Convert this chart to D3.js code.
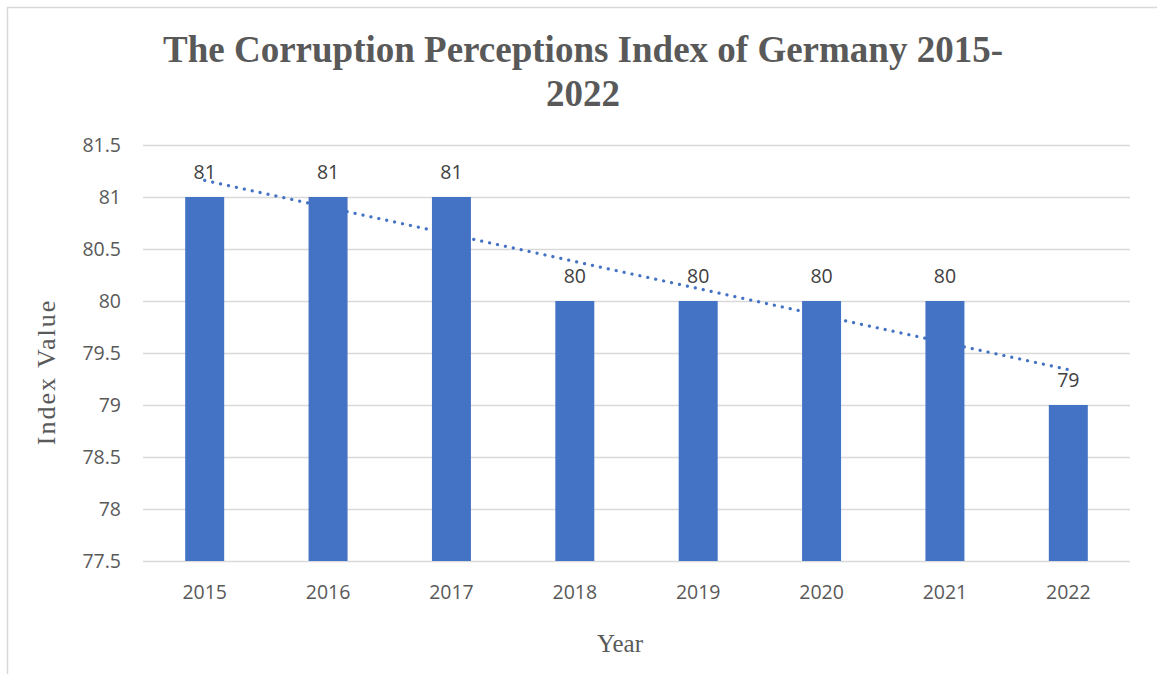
<!DOCTYPE html>
<html>
<head>
<meta charset="utf-8">
<script src="https://cdn.jsdelivr.net/npm/d3@7"></script>
<style>
  body { margin: 0; background: #fff; }
  svg { display: block; }
</style>
</head>
<body>
<svg id="chart" width="1157" height="674"></svg>
<script>
// data
var years = ["2015", "2016", "2017", "2018", "2019", "2020", "2021", "2022"];
var values = [81, 81, 81, 80, 80, 80, 80, 79];
var yTicks = [77.5, 78, 78.5, 79, 79.5, 80, 80.5, 81, 81.5];
// dotted linear trendline, value at first and last year
var trendYears = ["2015", "2022"];
var trendValues = [81.16, 79.34];

var titleLines = ["The Corruption Perceptions Index of Germany 2015-", "2022"];

var width = 1157, height = 674;
var margin = {left: 143, right: 27, top: 145, bottom: 113};

var svg = d3.select("#chart");

// outer chart border
svg.append("rect")
    .attr("x", 7.5)
    .attr("y", 7.5)
    .attr("width", 1170)
    .attr("height", 700)
    .attr("fill", "#fff")
    .attr("stroke", "#d9d9d9")
    .attr("stroke-width", 1.5);

var x = d3.scaleBand()
    .domain(years)
    .range([margin.left, width - margin.right])
    .paddingInner(0.684)
    .paddingOuter(0.342);

var y = d3.scaleLinear()
    .domain([77.5, 81.5])
    .range([height - margin.bottom, margin.top]);

// gridlines
var yAxis = d3.axisLeft(y)
    .tickValues(yTicks)
    .tickSize(-(width - margin.left - margin.right))
    .tickPadding(22)
    .tickFormat(function(d) { return d; });

var gy = svg.append("g")
    .attr("transform", "translate(" + margin.left + ",0)")
    .call(yAxis);
gy.select(".domain").remove();
gy.selectAll(".tick line")
    .attr("stroke", "#d9d9d9")
    .attr("stroke-width", 1.5);
gy.selectAll(".tick text")
    .attr("fill", "#595959")
    .attr("dy", "0.35em")
    .style("font-family", "'Open Sans', sans-serif")
    .style("font-size", "19.5px");

// bars
svg.append("g")
    .selectAll("rect")
    .data(values)
    .join("rect")
    .attr("x", function(d, i) { return x(years[i]); })
    .attr("y", function(d) { return y(d); })
    .attr("width", x.bandwidth())
    .attr("height", function(d) { return y(77.5) - y(d); })
    .attr("fill", "#4472c4");

// trendline
var line = d3.line()
    .x(function(d, i) { return x(trendYears[i]) + x.bandwidth() / 2; })
    .y(function(d) { return y(d); });

svg.append("path")
    .datum(trendValues)
    .attr("d", line)
    .attr("fill", "none")
    .attr("stroke", "#4472c4")
    .attr("stroke-width", 3.2)
    .attr("stroke-linecap", "round")
    .attr("stroke-dasharray", "0.1 8");

// data labels
svg.append("g")
    .selectAll("text")
    .data(values)
    .join("text")
    .attr("x", function(d, i) { return x(years[i]) + x.bandwidth() / 2; })
    .attr("y", function(d) { return y(d) - 18; })
    .attr("text-anchor", "middle")
    .attr("fill", "#404040")
    .style("font-family", "'Open Sans', sans-serif")
    .style("font-size", "19.5px")
    .text(function(d) { return d; });

// x axis labels
var xAxis = d3.axisBottom(x).tickSize(0).tickPadding(24);
var gx = svg.append("g")
    .attr("transform", "translate(0," + (height - margin.bottom) + ")")
    .call(xAxis);
gx.select(".domain").remove();
gx.selectAll(".tick text")
    .attr("fill", "#595959")
    .style("font-family", "'Open Sans', sans-serif")
    .style("font-size", "19.5px");

// title
svg.append("g")
    .selectAll("text")
    .data(titleLines)
    .join("text")
    .attr("x", 583)
    .attr("y", function(d, i) { return 62 + i * 44; })
    .attr("text-anchor", "middle")
    .attr("fill", "#595959")
    .style("font-family", "'Liberation Serif', 'Times New Roman', serif")
    .style("font-weight", "bold")
    .style("font-size", "37px")
    .text(function(d) { return d; });

// axis titles
svg.append("text")
    .attr("x", 620)
    .attr("y", 652)
    .attr("text-anchor", "middle")
    .attr("fill", "#595959")
    .style("font-family", "'Liberation Serif', 'Times New Roman', serif")
    .style("font-size", "25px")
    .text("Year");

svg.append("text")
    .attr("transform", "translate(55,372) rotate(-90)")
    .attr("text-anchor", "middle")
    .attr("fill", "#595959")
    .style("font-family", "'Liberation Serif', 'Times New Roman', serif")
    .style("font-size", "26px")
    .style("letter-spacing", "2px")
    .text("Index Value");
</script>
</body>
</html>
